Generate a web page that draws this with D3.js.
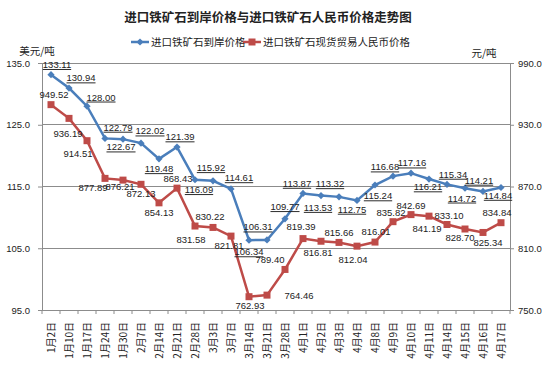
<!DOCTYPE html>
<meta charset="utf-8">
<style>
body { margin: 0; background: #fff; }
svg text { font-family: "Liberation Sans", Arial, sans-serif; fill: #222; }
svg .cn { font-family: "Noto Sans CJK SC", sans-serif; }
</style>
<body>
<div id="chart"></div>
<script src="https://cdnjs.cloudflare.com/ajax/libs/d3/7.8.5/d3.min.js"></script>
<script>
var dates = ['1月2日','1月10日','1月17日','1月24日','1月30日','2月7日','2月14日','2月21日','2月28日',
  '3月3日','3月7日','3月14日','3月21日','3月28日','4月1日','4月2日','4月3日','4月4日','4月8日',
  '4月9日','4月10日','4月11日','4月14日','4月15日','4月16日','4月17日'];

// 进口铁矿石到岸价格 (美元/吨)
var cifPrice = [133.11,130.94,128.00,122.79,122.67,122.02,119.48,121.39,116.09,115.92,114.61,
  106.31,106.34,109.77,113.87,113.53,113.32,112.75,115.24,116.68,117.16,116.21,115.34,114.72,114.21,114.84];

// 进口铁矿石现货贸易人民币价格 (元/吨)
var rmbPrice = [949.52,936.19,914.51,877.89,876.21,872.13,854.13,868.43,831.58,830.22,821.81,
  762.93,764.46,789.40,819.39,816.81,815.66,812.04,816.01,835.82,842.69,841.19,833.10,828.70,825.34,834.84];

var leftTicks = [95, 105, 115, 125, 135];
var rightTicks = [750, 810, 870, 930, 990];

// where each value label sits relative to its point (dx, dy of text centre)
var cifLabelNudge = [[6,-10],[12,-10],[14,-9],[13,-11],[-2,8],[9,-12],[0,10],[3,-10],[4,10],[-2,-13],
  [8,-11],[9,-13],[-18,12],[0,-12],[-6,-10],[-3,12],[-9,-13],[-5,9],[3,11],[-8,-9],[1,-10],[-1,8],
  [6,-10],[-3,10],[-4,-11],[-3,8]];
var rmbLabelNudge = [[3,-10],[-1,15],[-9,13],[-12,9],[-3,7],[0,9],[0,10],[1,-9],[-4,14],[-3,-11],
  [-2,10],[1,9],[32,1],[-15,-10],[-2,-12],[-3,11],[0,-10],[-4,14],[1,-10],[-2,-9],[0,-9],[-2,13],
  [2,-9],[-5,9],[5,10],[-4,-10]];

var W = 553, H = 370;
var blue = '#4A7EBB', red = '#BE4B48';

var svg = d3.select('#chart').append('svg')
  .attr('width', W).attr('height', H);

var x = d3.scaleBand().domain(dates).range([42, 510]).padding(0);
var yL = d3.scaleLinear().domain([95, 135]).range([310, 63]);
var yR = d3.scaleLinear().domain([750, 990]).range([310, 63]);
var cx = function(d, i) { return x(dates[i]) + x.bandwidth() / 2; };

// title
svg.append('text').attr('class', 'cn')
  .attr('x', 268).attr('y', 22)
  .attr('text-anchor', 'middle')
  .style('font-size', '12.5px').style('font-weight', 'bold')
  .text('进口铁矿石到岸价格与进口铁矿石人民币价格走势图');

// gridlines
svg.append('g').selectAll('line').data(leftTicks).enter().append('line')
  .attr('x1', 42).attr('x2', 510)
  .attr('y1', function(d) { return yL(d); }).attr('y2', function(d) { return yL(d); })
  .attr('stroke', '#8c8c8c').attr('stroke-width', 1).attr('shape-rendering', 'crispEdges');

// axes
var leftAxis = d3.axisLeft(yL).tickValues(leftTicks).tickSize(4).tickFormat(d3.format('.1f'));
var rightAxis = d3.axisRight(yR).tickValues(rightTicks).tickSize(4).tickFormat(d3.format('.1f'));
var bottomAxis = d3.axisBottom(x).tickSize(0).tickFormat('');

var gl = svg.append('g').attr('transform', 'translate(42,0)').call(leftAxis);
var gr = svg.append('g').attr('transform', 'translate(510,0)').call(rightAxis);
[gl, gr].forEach(function(g) {
  g.select('.domain').attr('stroke', '#8c8c8c');
  g.selectAll('.tick line').attr('stroke', '#8c8c8c');
  g.selectAll('.tick text').style('font-size', '9.5px').attr('fill', '#222');
});
gl.selectAll('.tick text').attr('x', -12);
gr.selectAll('.tick text').attr('x', 8);

var gb = svg.append('g').attr('transform', 'translate(0,310)').call(bottomAxis);
gb.select('.domain').attr('stroke', '#8c8c8c');
// tick marks at category boundaries
gb.selectAll('.sep').data(dates.concat(['end'])).enter().append('line')
  .attr('x1', function(d, i) { return 42 + i * x.bandwidth(); })
  .attr('x2', function(d, i) { return 42 + i * x.bandwidth(); })
  .attr('y1', 0).attr('y2', 4)
  .attr('stroke', '#8c8c8c');
gb.selectAll('.lab').data(dates).enter().append('text')
  .attr('class', 'cn')
  .attr('transform', function(d) { return 'translate(' + (x(d) + x.bandwidth() / 2) + ',12) rotate(-90)'; })
  .attr('text-anchor', 'end').attr('dy', '0.35em')
  .style('font-size', '10px')
  .text(function(d) { return d; });

// axis units
svg.append('text').attr('class', 'cn').attr('x', 37).attr('y', 55)
  .attr('text-anchor', 'middle').style('font-size', '10.5px').text('美元/吨');
svg.append('text').attr('class', 'cn').attr('x', 484).attr('y', 57)
  .attr('text-anchor', 'middle').style('font-size', '10.5px').text('元/吨');

// lines
var lineL = d3.line().x(cx).y(function(d) { return yL(d); });
var lineR = d3.line().x(cx).y(function(d) { return yR(d); });

svg.append('path').datum(rmbPrice).attr('d', lineR)
  .attr('fill', 'none').attr('stroke', red).attr('stroke-width', 2.5);
svg.append('path').datum(cifPrice).attr('d', lineL)
  .attr('fill', 'none').attr('stroke', blue).attr('stroke-width', 2.5);

var square = d3.symbol().type(d3.symbolSquare).size(49);
var diamond = d3.symbol().type(d3.symbolSquare).size(26);

svg.append('g').selectAll('path').data(rmbPrice).enter().append('path')
  .attr('d', square)
  .attr('transform', function(d, i) { return 'translate(' + cx(d, i) + ',' + yR(d) + ')'; })
  .attr('fill', red);
svg.append('g').selectAll('path').data(cifPrice).enter().append('path')
  .attr('d', diamond)
  .attr('transform', function(d, i) { return 'translate(' + cx(d, i) + ',' + yL(d) + ') rotate(45)'; })
  .attr('fill', blue);

// value labels
svg.append('g').selectAll('text').data(rmbPrice).enter().append('text')
  .attr('x', function(d, i) { return cx(d, i) + rmbLabelNudge[i][0]; })
  .attr('y', function(d, i) { return yR(d) + rmbLabelNudge[i][1]; })
  .attr('dy', '0.35em').attr('text-anchor', 'middle')
  .style('font-size', '9.5px')
  .text(function(d) { return d3.format('.2f')(d); });
svg.append('g').selectAll('text').data(cifPrice).enter().append('text')
  .attr('x', function(d, i) { return cx(d, i) + cifLabelNudge[i][0]; })
  .attr('y', function(d, i) { return yL(d) + cifLabelNudge[i][1]; })
  .attr('dy', '0.35em').attr('text-anchor', 'middle')
  .style('font-size', '9.5px').style('text-decoration', 'underline')
  .text(function(d) { return d3.format('.2f')(d); });

// legend
var legend = [
  {name: '进口铁矿石到岸价格', color: blue, x: 131, shape: 'diamond'},
  {name: '进口铁矿石现货贸易人民币价格', color: red, x: 243, shape: 'square'}
];
var lg = svg.append('g').selectAll('g').data(legend).enter().append('g')
  .attr('transform', function(d) { return 'translate(' + d.x + ',42)'; });
lg.append('line').attr('x1', 0).attr('x2', 18)
  .attr('stroke', function(d) { return d.color; }).attr('stroke-width', 2.5);
lg.append('path')
  .attr('d', function(d) { return d.shape === 'square' ? square() : diamond(); })
  .attr('transform', function(d) { return 'translate(9,0)' + (d.shape === 'diamond' ? ' rotate(45)' : ''); })
  .attr('fill', function(d) { return d.color; });
lg.append('text').attr('class', 'cn')
  .attr('x', 20).attr('dy', '0.35em')
  .style('font-size', '10.5px')
  .text(function(d) { return d.name; });
</script>
</body>
